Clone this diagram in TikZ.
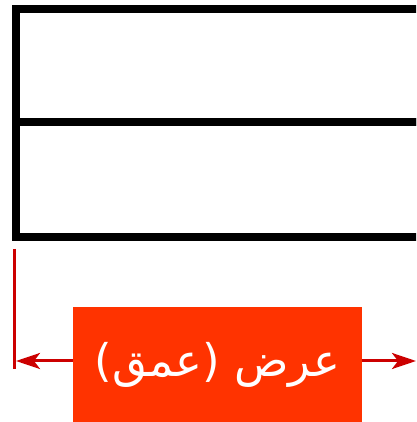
\documentclass[tikz,border=0pt]{standalone}
\usepackage{fontspec}
\usepackage{tikz}
\usetikzlibrary{arrows.meta}
\newfontfamily\arabicfont[Script=Arabic]{DejaVu Sans}
\TeXXeTstate=1
\definecolor{dimred}{HTML}{CC0000}
\definecolor{labelred}{HTML}{FF3300}
\tikzset{
	shelf/.style = {
			rectangle,
			draw            = black,
			line width      = 8pt,
			minimum width   = 424pt,
			inner sep = 0pt,
		},
	dimline/.style = {draw=dimred, line width=3pt},
	dimlabel/.style = {
			fill            = labelred,
			text            = white,
			minimum width   = 289pt,
			minimum height  = 115pt,
			inner sep = 0pt,
			font = \arabicfont\fontsize{45}{54}\selectfont,
		}
}

\begin{document}
\begin{tikzpicture}[x=1pt,y=1pt]
			\useasboundingbox (0,0) rectangle (416,422);
			\clip (0,0) rectangle (416,422);
			% Shelves
			\node[shelf, minimum height=113.5pt] (Upper shelf) at (228,356.25) {};
			\node[shelf, minimum height=114.5pt] (Lower shelf) at (228,242.25) {};

			% Dimension
			\coordinate (Extent top) at (14,173);
			\coordinate (Extent bottom) at (14,53);
			\coordinate (Left end) at (16,61);
			\coordinate (Right end) at (416,61);

			\node[dimlabel] (Width label) at (217.5,57.5) {\beginR عرض (عمق)\endR};

			\draw[dimline] (Extent top) to (Extent bottom);
			\draw[dimline,-{Stealth[length=24pt,width=16pt,inset=6pt]}] (Width label.west |- Left end) to (Left end);
			\draw[dimline,-{Stealth[length=24pt,width=16pt,inset=6pt]}] (Width label.east |- Right end) to (Right end);
		\end{tikzpicture}
\end{document}
